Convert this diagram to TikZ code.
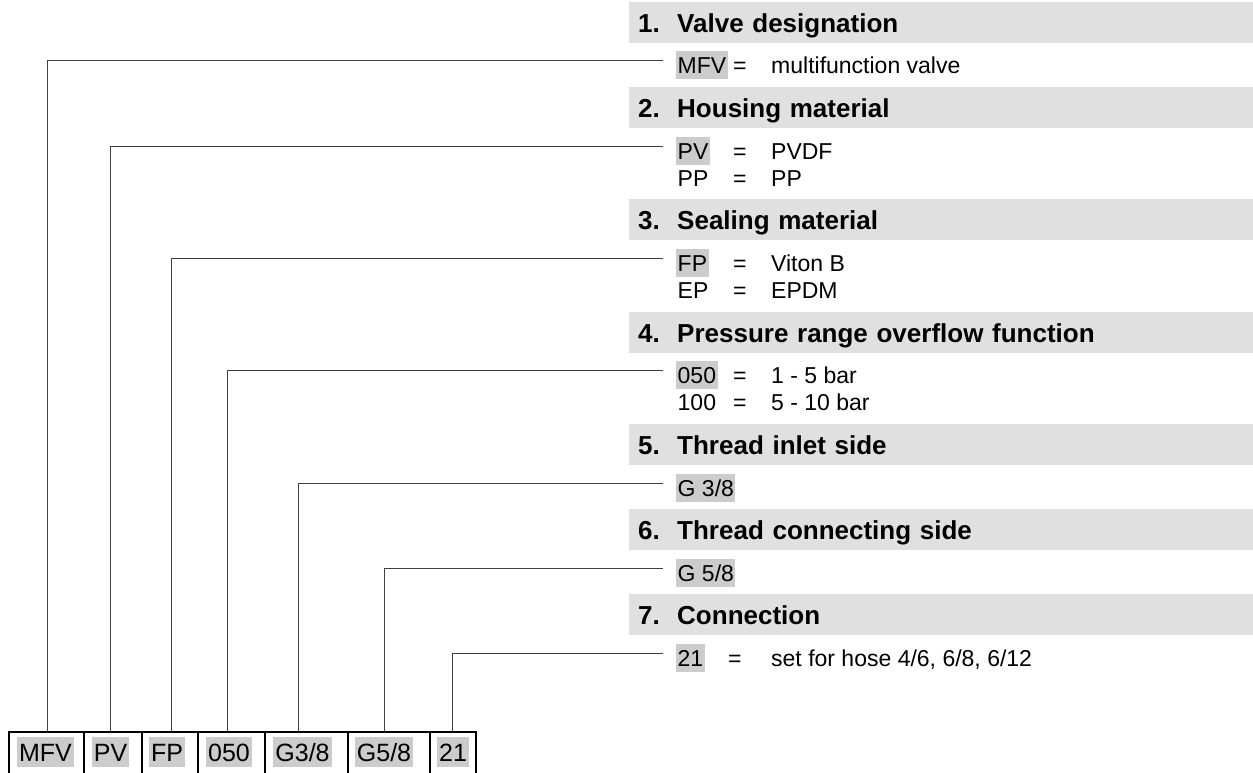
\documentclass[tikz,border=0pt]{standalone}
\usepackage{fontspec}
\setmainfont{Liberation Sans}
\definecolor{barfill}{HTML}{E0E0E0}
\definecolor{codefill}{HTML}{CCCCCC}
\newcommand{\itemfont}{\fontsize{23}{27}\selectfont}
\newcommand{\hdrfont}{\fontsize{26}{30}\selectfont\bfseries}
\newcommand{\cellfont}{\fontsize{25}{30}\selectfont}
\begin{document}
\begin{tikzpicture}[x=1pt,y=-1pt,
  hdr/.style={fill=barfill, anchor=north west, minimum width=624pt, minimum height=41pt,
    inner xsep=9pt, inner ysep=0pt, text width=606pt, align=left,
    text height=18.6pt, text depth=0pt, font=\hdrfont},
  code/.style={fill=codefill, inner xsep=1.5pt, inner ysep=5.75pt, text height=16.5pt,
    text depth=0pt, anchor=base west, font=\itemfont},
  txt/.style={inner sep=0pt, anchor=base west, font=\itemfont},
  cell/.style={draw=black, line width=1.5pt, anchor=north west, minimum height=50pt, inner sep=0pt},
  cellcode/.style={fill=codefill, inner xsep=2pt, inner ysep=6pt, text height=18pt,
    text depth=0pt, font=\cellfont},
  conn/.style={draw=black!75, line width=1pt}]
\useasboundingbox (0,0) rectangle (1253,772);

% header bars
\node[hdr] (h1) at (629,2)   {\makebox[39pt][l]{1.}Valve designation};
\node[hdr] (h2) at (629,87)  {\makebox[39pt][l]{2.}Housing material};
\node[hdr] (h3) at (629,199) {\makebox[39pt][l]{3.}Sealing material};
\node[hdr] (h4) at (629,312) {\makebox[39pt][l]{4.}Pressure range overflow function};
\node[hdr] (h5) at (629,424) {\makebox[39pt][l]{5.}Thread inlet side};
\node[hdr] (h6) at (629,509) {\makebox[39pt][l]{6.}Thread connecting side};
\node[hdr] (h7) at (629,594) {\makebox[39pt][l]{7.}Connection};

% items
\node[code] (m1) at (676,73) {MFV};
\node[txt] (q1) at (733,73) {=};
\node[txt] (t1) at (771,73) {multifunction valve};

\node[code] (m2) at (676,159) {PV};
\node[txt] (q2) at (733,159) {=};
\node[txt] (t2) at (771,159) {PVDF};
\node[txt] (m2b) at (677.5,186) {PP};
\node[txt] (q2b) at (733,186) {=};
\node[txt] (t2b) at (771,186) {PP};

\node[code] (m3) at (676,271) {FP};
\node[txt] (q3) at (733,271) {=};
\node[txt] (t3) at (771,271) {Viton B};
\node[txt] (m3b) at (677.5,298) {EP};
\node[txt] (q3b) at (733,298) {=};
\node[txt] (t3b) at (771,298) {EPDM};

\node[code] (m4) at (676,383) {050};
\node[txt] (q4) at (733,383) {=};
\node[txt] (t4) at (771,383) {1 - 5 bar};
\node[txt] (m4b) at (677.5,410) {100};
\node[txt] (q4b) at (733,410) {=};
\node[txt] (t4b) at (771,410) {5 - 10 bar};

\node[code] (m5) at (676,496) {G 3/8};

\node[code] (m6) at (676,581) {G 5/8};

\node[code] (m7) at (676,666) {21};
\node[txt] (q7) at (728,666) {=};
\node[txt] (t7) at (771,666) {set for hose 4/6, 6/8, 6/12};

% bottom cells
\node[cell, minimum width=75pt] (c1) at (8,731) {};
\node[cell, minimum width=58pt] (c2) at (83,731) {};
\node[cell, minimum width=56pt] (c3) at (141,731) {};
\node[cell, minimum width=67pt] (c4) at (197,731) {};
\node[cell, minimum width=83pt] (c5) at (264,731) {};
\node[cell, minimum width=82pt] (c6) at (347,731) {};
\node[cell, minimum width=46pt] (c7) at (429,731) {};

\node[cellcode] (k1) at (45.5,752) {MFV};
\node[cellcode] (k2) at (110.5,752) {PV};
\node[cellcode] (k3) at (167,752) {FP};
\node[cellcode] (k4) at (229,752) {050};
\node[cellcode] (k5) at (302.5,752) {G3/8};
\node[cellcode] (k6) at (384,752) {G5/8};
\node[cellcode] (k7) at (453,752) {21};

% connector feet on the top edge of the cells
\coordinate (b1) at (47,731);
\coordinate (b2) at (110,731);
\coordinate (b3) at (171,731);
\coordinate (b4) at (227,731);
\coordinate (b5) at (298,731);
\coordinate (b6) at (384,731);
\coordinate (b7) at (452,731);

\draw[conn] (b1) |- ([xshift=-13pt,yshift=4pt]m1.west);
\draw[conn] (b2) |- ([xshift=-13pt,yshift=4pt]m2.west);
\draw[conn] (b3) |- ([xshift=-13pt,yshift=4pt]m3.west);
\draw[conn] (b4) |- ([xshift=-13pt,yshift=4pt]m4.west);
\draw[conn] (b5) |- ([xshift=-13pt,yshift=4pt]m5.west);
\draw[conn] (b6) |- ([xshift=-13pt,yshift=4pt]m6.west);
\draw[conn] (b7) |- ([xshift=-13pt,yshift=4pt]m7.west);
\end{tikzpicture}
\end{document}
